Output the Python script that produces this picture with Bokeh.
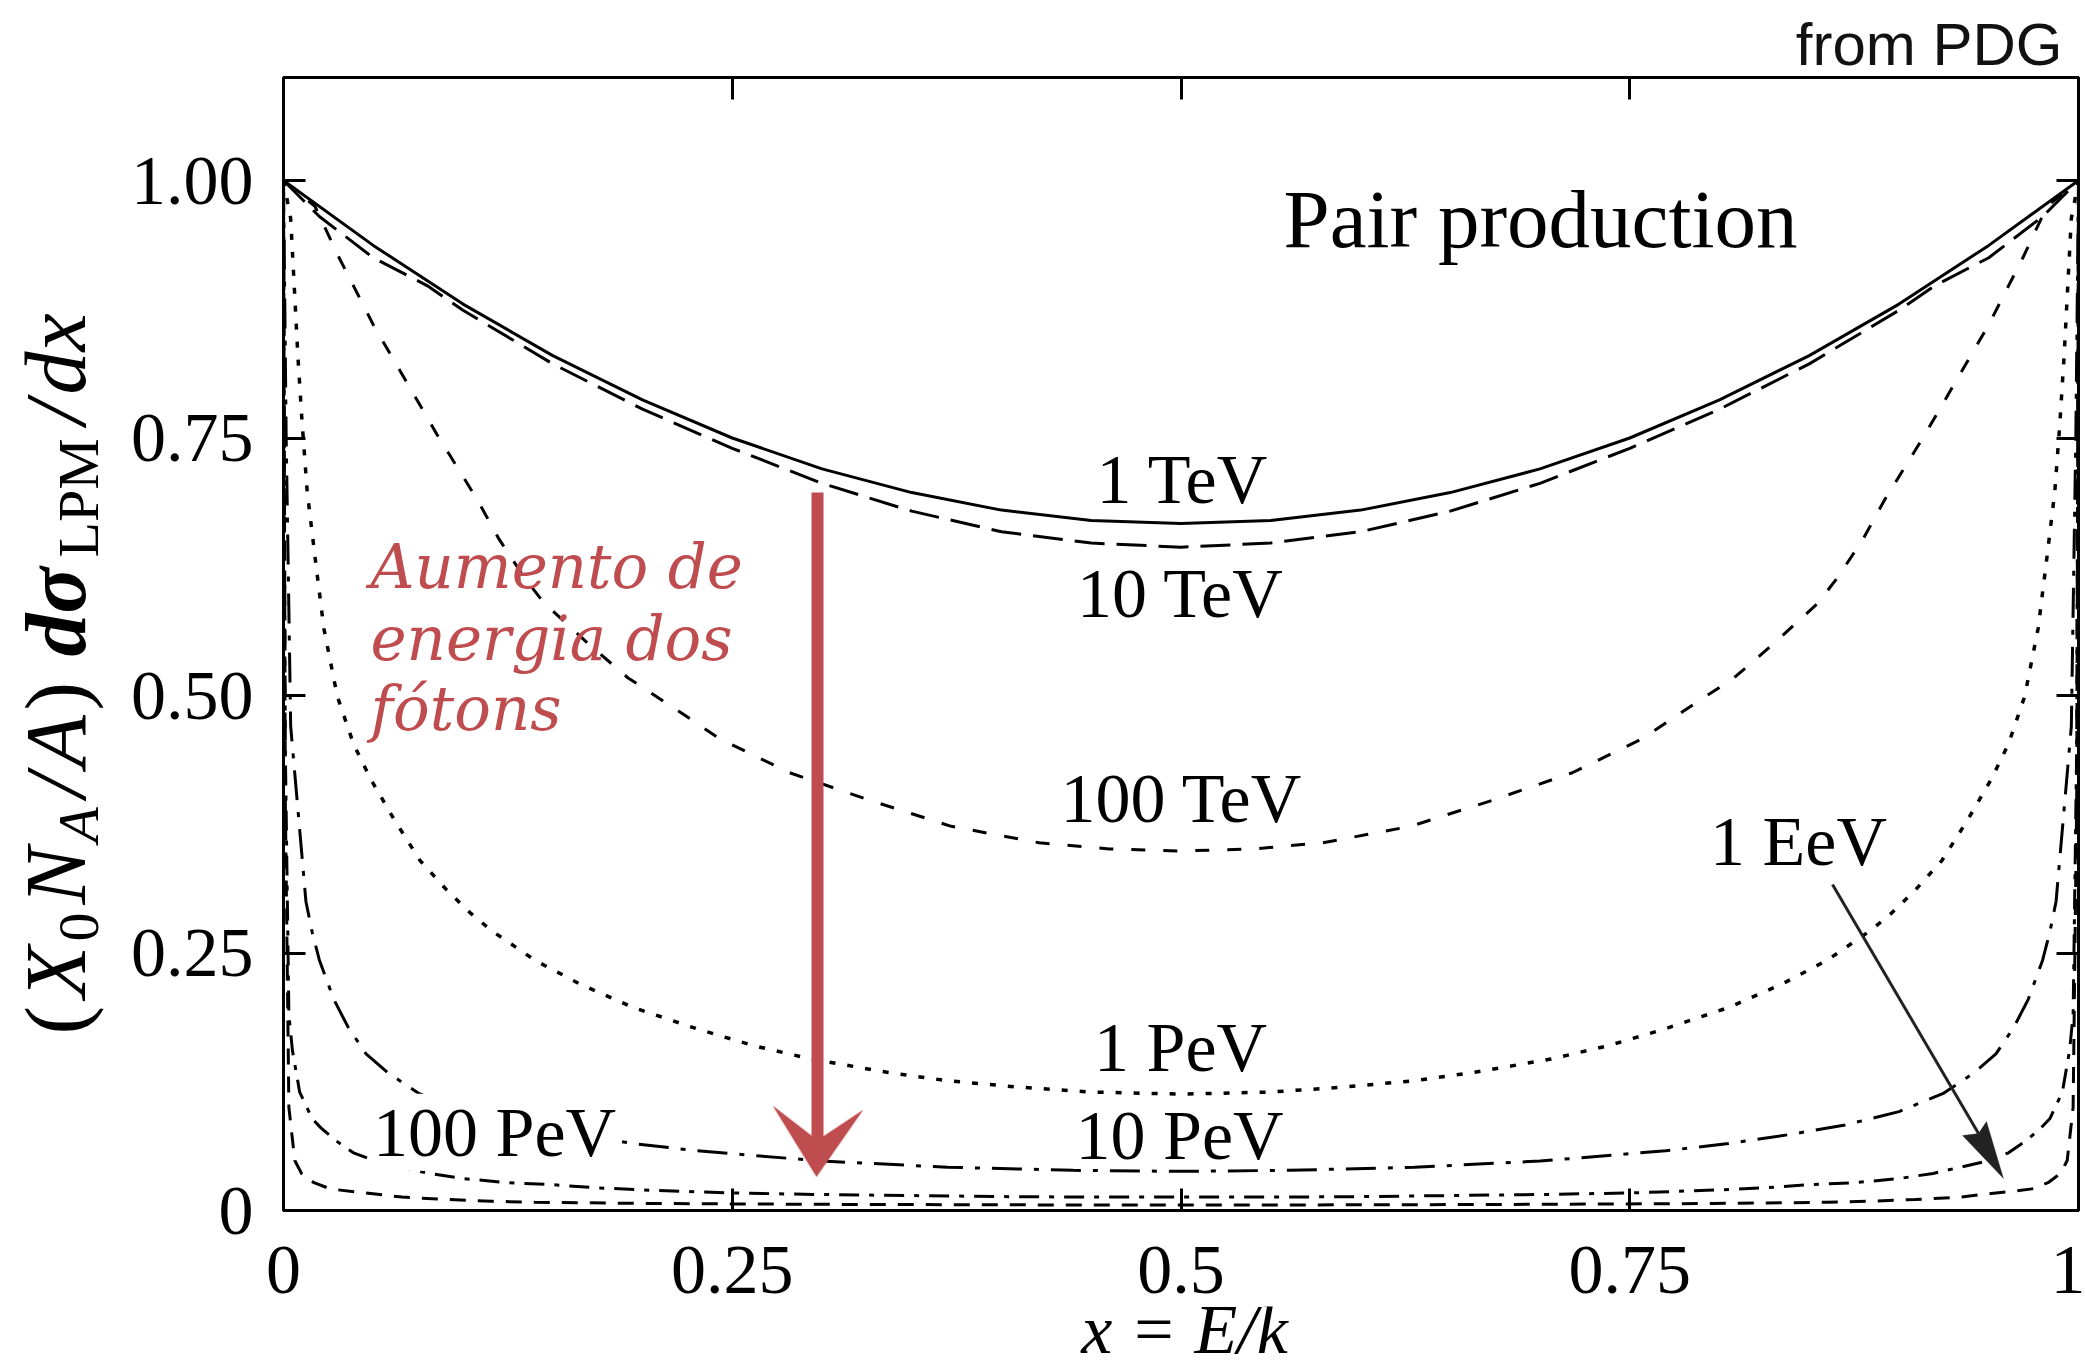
import math
from bokeh.plotting import figure
from bokeh.layouts import row, column
from bokeh.models import Range1d, LinearAxis, FixedTicker, Label, Arrow, PolyAnnotation, Title
from bokeh.embed import file_html
from bokeh.resources import INLINE

# ---------------- data ----------------
X_TICKS = [0, 0.25, 0.5, 0.75, 1]
X_TICK_LABELS = ["0", "0.25", "0.5", "0.75", "1"]
Y_TICKS = [0, 0.25, 0.5, 0.75, 1.0]
Y_TICK_LABELS = ["0", "0.25", "0.50", "0.75", "1.00"]

X_1TEV = [0, .05, .1, .15, .2, .25, .3, .35, .4, .45, .5, .55, .6, .65, .7, .75, .8, .85, .9, .95, 1]
Y_1TEV = [1.0, .937, .880, .830, .787, .750, .720, .697, .680, .670, .667, .670, .680, .697, .720, .750,
          .787, .830, .880, .937, 1.0]

X_10TEV = [0, .02, .05, .08, .1, .15, .2, .25, .3, .35, .4, .45, .5, .55, .6, .65, .7, .75, .8, .85, .9,
           .92, .95, .98, 1]
Y_10TEV = [1.0, .965, .925, .898, .874, .822, .778, .740, .706, .679, .659, .648, .644, .648, .659, .679,
           .706, .740, .778, .822, .874, .898, .925, .965, 1.0]

X_100TEV = [0, .0175, .031, .05, .065, .086, .108, .12, .134, .145, .17, .192, .22, .243, .282, .327, .372,
            .421, .46, .5, .54, .579, .628, .673, .718, .757, .78, .808, .83, .855, .866, .88, .892, .914,
            .935, .95, .969, .9825, 1]
Y_100TEV = [1.0, .975, .925, .86, .815, .752, .69, .652, .615, .59, .55, .517, .485, .458, .425, .398, .373,
            .357, .351, .349, .351, .357, .373, .398, .425, .458, .485, .517, .55, .59, .615, .652, .69,
            .752, .815, .86, .925, .975, 1.0]

X_1PEV = [0, .004, .006, .008, .0104, .0132, .0178, .0225, .030, .039, .0485, .0615, .076, .091, .104,
          .1157, .140, .165, .195, .231, .262, .294, .337, .37, .408, .45, .5,
          .55, .592, .63, .663, .706, .738, .769, .805, .835, .86, .8843, .896, .909, .924, .9385, .9515,
          .961, .97, .9775, .9822, .9868, .9896, .992, .994, .996, 1]
Y_1PEV = [1.0, .963, .897, .830, .764, .698, .631, .565, .499, .453, .419, .380, .340, .311, .289, .272,
          .243, .220, .197, .176, .160, .147, .134, .126, .120, .115, .113,
          .115, .120, .126, .134, .147, .160, .176, .197, .220, .243, .272, .289, .311, .340, .380, .419,
          .453, .499, .565, .631, .698, .764, .830, .897, .963, 1.0]

X_10PEV = [0, .0015, .004, .009, .0125, .016, .020, .028, .036, .046, .058, .075, .10, .13, .16, .195, .23,
           .30, .37, .44, .5,
           .56, .63, .70, .77, .805, .84, .87, .90, .925, .942, .954, .964, .972, .98, .984, .9875, .991,
           .996, .9985, 1]
Y_10PEV = [1.0, .75, .47, .37, .30, .27, .243, .205, .178, .152, .134, .114, .096, .083, .074, .065, .058,
           .048, .042, .039, .038,
           .039, .042, .048, .058, .065, .074, .083, .096, .114, .134, .152, .178, .205, .243, .27, .30,
           .37, .47, .75, 1.0]

X_100PEV = [0, .001, .003, .005, .009, .016, .021, .029, .039, .051, .066, .081, .10, .125, .15, .175, .20,
            .25, .30, .35, .40, .45, .5,
            .55, .60, .65, .70, .75, .80, .825, .85, .875, .90, .919, .934, .949, .961, .971, .979, .984,
            .991, .995, .997, .999, 1]
Y_100PEV = [1.0, .45, .19, .155, .115, .089, .080, .068, .056, .048, .042, .036, .031, .027, .025, .022,
            .020, .017, .0155, .0145, .0135, .013, .013,
            .013, .0135, .0145, .0155, .017, .020, .022, .025, .027, .031, .036, .042, .048, .056, .068,
            .080, .089, .115, .155, .19, .45, 1.0]

X_1EEV = [0, .001, .003, .0063, .010, .017, .026, .04, .0486, .066, .091, .1157, .14, .203, .3, .4, .5,
          .6, .7, .797, .86, .8843, .909, .934, .9514, .96, .974, .983, .99, .9937, .997, .999, 1]
Y_1EEV = [1.0, .40, .10, .0485, .036, .027, .021, .018, .0165, .013, .0107, .009, .008, .0068, .006, .0055,
          .0053, .0055, .006, .0068, .008, .009, .0107, .013, .0165, .018, .021, .027, .036, .0485, .10,
          .40, 1.0]

CURVE_LABELS = ["1 TeV", "10 TeV", "100 TeV", "1 PeV", "10 PeV", "100 PeV", "1 EeV"]

# ---------------- layout (pixels of the 2085 x 1368 page) ----------------
W, H = 2085, 1368
LW = 120                      # strip that carries the y-axis title
BH = 62                       # strip that carries the x-axis title
MH = H - BH                   # height of the main row
FL, FR, FT, FB = 283, 2078, 77, 1210
XMIN, XMAX, YMIN, YMAX = 0.0, 1.0, 0.0, 1.1
BASE_SHIFT = 0.36             # Bokeh label baseline correction (fraction of font size)


def dx(px):
    return XMIN + (px - FL) / (FR - FL) * (XMAX - XMIN)


def dy(py):
    return YMIN + (FB - py) / (FB - FT) * (YMAX - YMIN)


SERIF = "Liberation Serif"
RED = "#bf4c4f"


def blank_strip(width, height, xr, yr, **borders):
    f = figure(width=width, height=height, x_range=xr, y_range=yr, output_backend="svg",
               toolbar_location=None, x_axis_location=None, y_axis_location=None, **borders)
    f.outline_line_color = None
    f.background_fill_color = "white"
    f.border_fill_color = "white"
    f.xgrid.visible = False
    f.ygrid.visible = False
    return f


# ---------------- strip with the rotated y title (pixel coordinates) ----------------
left = blank_strip(LW, MH, Range1d(0, LW), Range1d(FB, FT),
                   min_border_left=0, min_border_right=0, min_border_top=FT, min_border_bottom=MH - FB)

pieces = [
    ("(", 86, "normal", False, 36),
    ("X", 86, "italic", False, 57),
    ("0", 58, "normal", True, 37),
    ("N", 86, "italic", False, 62),
    ("A", 58, "italic", True, 45),
    ("/", 86, "italic", False, 30),
    ("A", 86, "italic", False, 57),
    (")", 86, "normal", False, 54),
    ("dσ", 86, "bold italic", False, 99),
    ("LPM", 58, "normal", True, 133),
    ("/", 86, "italic", False, 30),
    ("dx", 86, "italic", False, 88),
]
ypos = 1034
for txt, fs, style, sub, adv in pieces:
    bx = (99 if sub else 86) - BASE_SHIFT * fs
    left.add_layout(Label(x=bx, y=ypos, text=txt, text_font=SERIF, text_font_size=f"{fs}px",
                          text_font_style=style, text_color="black", angle=math.pi / 2,
                          text_align="left", text_baseline="alphabetic"))
    ypos -= adv

# ---------------- main plot ----------------
p = figure(width=W - LW, height=MH,
           min_border_left=FL - LW, min_border_right=W - FR, min_border_top=FT, min_border_bottom=MH - FB,
           x_range=Range1d(XMIN, XMAX), y_range=Range1d(YMIN, YMAX),
           output_backend="svg", toolbar_location=None,
           title=Title(text="from PDG", align="right", text_font="Liberation Sans", text_font_size="60px",
                       text_font_style="normal", text_color="#111111", standoff=0, offset=16))
p.xgrid.visible = False
p.ygrid.visible = False
p.outline_line_color = "black"
p.outline_line_width = 3
p.background_fill_color = "white"
p.border_fill_color = "white"

xa = p.below[0]
ya = p.left[0]
xa.ticker = FixedTicker(ticks=X_TICKS)
ya.ticker = FixedTicker(ticks=Y_TICKS)
xa.major_label_overrides = {t: s for t, s in zip(X_TICKS, X_TICK_LABELS)}
ya.major_label_overrides = {t: s for t, s in zip(Y_TICKS, Y_TICK_LABELS)}
for ax, standoff in ((xa, 36), (ya, 30)):
    ax.major_label_text_font = SERIF
    ax.major_label_text_font_size = "70px"
    ax.major_label_text_color = "black"
    ax.major_label_standoff = standoff
    ax.major_tick_in = 22
    ax.major_tick_out = 0
    ax.major_tick_line_width = 3
    ax.minor_tick_line_color = None
    ax.axis_line_width = 3

for loc, ticks in (("right", Y_TICKS), ("above", X_TICKS)):
    ax2 = LinearAxis(ticker=FixedTicker(ticks=ticks), major_label_overrides={t: "" for t in ticks},
                     major_label_standoff=0, major_tick_in=22, major_tick_out=0, major_tick_line_width=3,
                     minor_tick_line_color=None, axis_line_width=3)
    p.add_layout(ax2, loc)

# ---------------- curves ----------------
series = [
    (X_1TEV, Y_1TEV, "solid", 3),
    (X_10TEV, Y_10TEV, "30 12", 3),
    (X_100TEV, Y_100TEV, "14 18", 3),
    (X_1PEV, Y_1PEV, "6 12", 3.5),
    (X_10PEV, Y_10PEV, "30 12 5 12", 3),
    (X_100PEV, Y_100PEV, "20 10 5 10", 3),
    (X_1EEV, Y_1EEV, "16 12", 3),
]
for xs, ys, dash, w in series:
    p.line(xs, ys, line_color="black", line_width=w, line_dash=dash)


def add_text(cx, baseline, txt, fs, align="center", font=SERIF, style="normal", color="black", bg=None):
    lab = Label(x=dx(cx), y=dy(baseline - BASE_SHIFT * fs), text=txt, text_font=font,
                text_font_size=f"{fs}px", text_font_style=style, text_color=color,
                text_align=align, text_baseline="alphabetic")
    if bg is not None:
        lab.background_fill_color = bg
    p.add_layout(lab)


# ---------------- curve labels ----------------
label_pos = [(1182, 504), (1180, 618), (1181, 823), (1180, 1072), (1179, 1160), (494, 1157), (1798, 866)]
for txt, (cx, by) in zip(CURVE_LABELS, label_pos):
    add_text(cx, by, txt, 70, bg="white" if txt == "100 PeV" else None)

add_text(1283, 248, "Pair production", 83, align="left")

# red hand-written annotation
for txt, by in (("Aumento de", 588), ("energia dos", 660), ("fótons", 730)):
    add_text(370, by, txt, 61, align="left", font="DejaVu Serif", style="italic", color=RED)

p.add_layout(Arrow(end=None, x_start=dx(817), y_start=dy(492), x_end=dx(817), y_end=dy(1145),
                   line_color=RED, line_width=12))
p.add_layout(PolyAnnotation(xs=[dx(773), dx(817), dx(862), dx(816)],
                            ys=[dy(1106), dy(1140), dy(1110), dy(1176)],
                            fill_color=RED, fill_alpha=1.0, line_color=RED, line_width=2))

# black arrow for 1 EeV
p.add_layout(Arrow(end=None, x_start=dx(1832), y_start=dy(884), x_end=dx(1978), y_end=dy(1133),
                   line_color="#222222", line_width=3))
p.add_layout(PolyAnnotation(xs=[dx(1962), dx(1978), dx(1986), dx(2003)],
                            ys=[dy(1135), dy(1133), dy(1121), dy(1178)],
                            fill_color="#222222", fill_alpha=1.0, line_color="#222222", line_width=1))

# ---------------- strip with the x title (x in data units, y in page pixels) ----------------
bottom = blank_strip(W, BH, Range1d(XMIN, XMAX), Range1d(H, MH),
                     min_border_left=FL, min_border_right=W - FR, min_border_top=0, min_border_bottom=0)
bottom.add_layout(Label(x=dx(1184), y=1354 - BASE_SHIFT * 70, text="x = E/k", text_font=SERIF,
                        text_font_size="70px", text_font_style="italic", text_color="black",
                        text_align="center", text_baseline="alphabetic"))

layout = column(row(left, p), bottom)
open("out.html", "w").write(file_html(layout, INLINE))
